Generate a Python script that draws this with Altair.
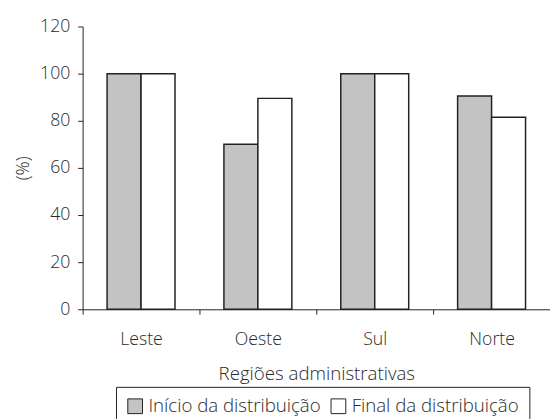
import altair as alt
import pandas as pd

regioes = ["Leste", "Oeste", "Sul", "Norte"]
series = ["Início da distribuição", "Final da distribuição"]
inicio = [100, 70, 100, 90.5]
final = [100, 89.5, 100, 81.5]

rows = []
for i, r in enumerate(regioes):
    rows.append({"regiao": r, "serie": series[0], "valor": inicio[i]})
    rows.append({"regiao": r, "serie": series[1], "valor": final[i]})
df = pd.DataFrame(rows)

FONT = "Open Sans"
TXT = "#2a2a2a"
FS = 18

chart = alt.Chart(df).mark_bar(stroke="#222222", strokeWidth=1.5).encode(
    x=alt.X("regiao:N", sort=regioes,
            scale=alt.Scale(paddingInner=0, paddingOuter=0),
            axis=alt.Axis(title="Regiões administrativas", labelAngle=0,
                          tickBand="extent", tickSize=5, labelPadding=17,
                          titlePadding=16, titleFontSize=19)),
    xOffset=alt.XOffset("serie:N", sort=series,
                        scale=alt.Scale(paddingInner=0, paddingOuter=0.72)),
    y=alt.Y("valor:Q", scale=alt.Scale(domain=[0, 120]),
            axis=alt.Axis(title="(%)", values=[0, 20, 40, 60, 80, 100, 120],
                          tickSize=5, labelPadding=8, titlePadding=7, grid=False)),
    color=alt.Color("serie:N", sort=series,
                    scale=alt.Scale(domain=series, range=["#c3c3c3", "#ffffff"]),
                    legend=alt.Legend(title=None, orient="none", direction="horizontal",
                                      legendX=34, legendY=367,
                                      symbolType="square", symbolSize=225,
                                      symbolStrokeColor="#222222", symbolStrokeWidth=1,
                                      labelFont=FONT, labelFontSize=19, labelColor=TXT,
                                      labelFontWeight=300, labelLimit=400,
                                      strokeColor="#222222", padding=10,
                                      columnPadding=8, labelOffset=4,
                                      symbolOpacity=1)),
).properties(
    width=476, height=288,
    autosize=alt.AutoSizeParams(type="none"),
    padding={"left": 76, "top": 15, "right": 0, "bottom": 115},
).configure_view(stroke=None).configure_axis(
    labelFont=FONT, titleFont=FONT, labelFontSize=FS, titleFontSize=FS,
    labelFontWeight=300, titleFontWeight=300,
    labelColor=TXT, titleColor=TXT,
    domainColor="#222222", tickColor="#222222", domainWidth=1, tickWidth=1,
)

chart.save("out.html", embed_options={"renderer": "svg", "actions": False})
